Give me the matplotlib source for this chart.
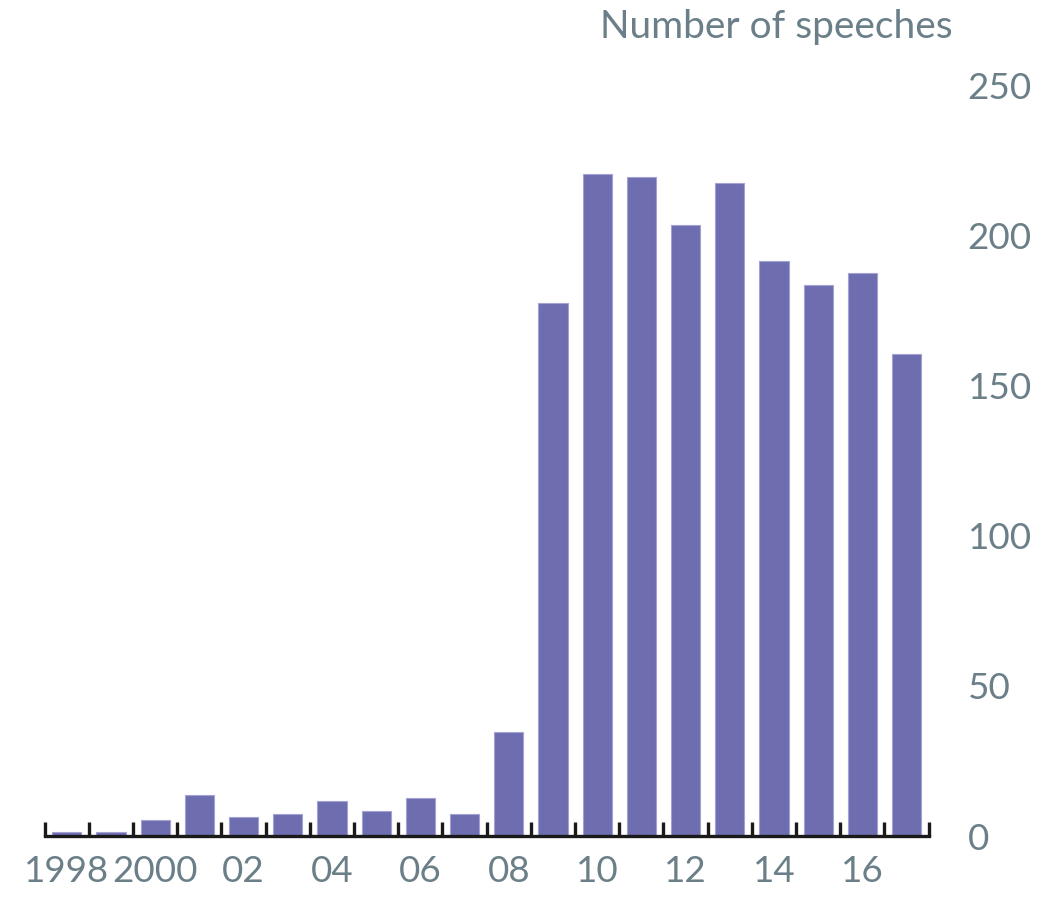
import numpy as np
import matplotlib.pyplot as plt

years = list(range(1998, 2018))
speeches = [1.5, 1.5, 5.5, 13.5, 6.5, 7.5, 11.5, 8.5, 12.5, 7.5,
            34.5, 177.5, 220.5, 219.5, 203.5, 217.5, 191.5, 183.5, 187.5, 160.5]
year_labels = ["1998", "2000", "02", "04", "06", "08", "10", "12", "14", "16"]
y_ticks = [0, 50, 100, 150, 200, 250]

bar_color = "#6e6daf"
text_color = "#6b7f88"
plt.rcParams['font.family'] = ['Lato', 'DejaVu Sans']

fig = plt.figure(figsize=(10.61, 8.98), dpi=100, facecolor='white')
ax = fig.add_axes([0.0421, 0.0690, 0.8332, 0.8363])

x = np.arange(len(years))
ax.bar(x, speeches, width=0.66, color=bar_color, edgecolor="#a3a2d4", linewidth=0.8)

ax.set_xlim(-0.5, len(years) - 0.5)
ax.set_ylim(0, 250)

# spines: only the bottom one
for side in ["top", "left", "right"]:
    ax.spines[side].set_visible(False)
ax.spines["bottom"].set_linewidth(2.4)
ax.spines["bottom"].set_color("#1a1a1a")

# x ticks: small marks between bars, labels under even years
ax.set_xticks(np.arange(-0.5, len(years)), minor=True)
ax.set_xticks(x[::2])
ax.set_xticklabels(year_labels)
ax.tick_params(axis='x', which='minor', direction='in', length=10, width=2.4, color="#1a1a1a")
ax.tick_params(axis='x', which='major', length=0, pad=14, labelsize=26.5, labelcolor=text_color)

# y axis on the right, labels only
ax.yaxis.tick_right()
ax.set_yticks(y_ticks)
ax.tick_params(axis='y', length=0, pad=28, labelsize=26.5, labelcolor=text_color)

fig.text(0.898, 0.97, "Number of speeches", ha='right', va='center',
         fontsize=28, color=text_color)

fig.savefig("out.png", dpi=100, facecolor='white')
